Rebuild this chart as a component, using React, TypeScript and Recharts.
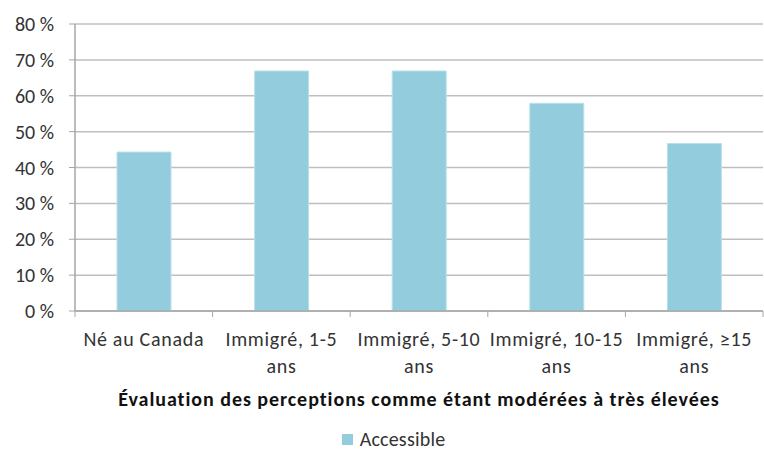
import { BarChart, Bar, XAxis, YAxis, CartesianGrid, Legend, Label } from "recharts";

const categories = [
  "Né au Canada",
  "Immigré, 1-5 ans",
  "Immigré, 5-10 ans",
  "Immigré, 10-15 ans",
  "Immigré, ≥15 ans",
];
const accessible = [44.3, 66.9, 66.9, 57.9, 46.7];
const yTicks = [0, 10, 20, 30, 40, 50, 60, 70, 80];

const data = categories.map((name, i) => ({ name, accessible: accessible[i] }));

const FONT = "Carlito, Lato, sans-serif";
const TEXT = "#333333";
const AXIS = "#a6a6a6";
const CHART_W = 764;
const CHART_H = 450;
const MARGIN = { top: 24, right: 1, left: 0, bottom: 0 };
const Y_WIDTH = 75;
const catWidth = (CHART_W - MARGIN.left - MARGIN.right - Y_WIDTH) / categories.length;

function CategoryTick(props: any) {
  const { x, y, payload, index } = props;
  const label = String(payload.value);
  const lines = label.endsWith(" ans") ? [label.slice(0, -4), "ans"] : [label];
  const axisY = y - 8;
  return (
    <g>
      <line x1={x - catWidth / 2} x2={x - catWidth / 2} y1={axisY} y2={axisY + 6} stroke={AXIS} />
      {index === categories.length - 1 && (
        <line x1={x + catWidth / 2} x2={x + catWidth / 2} y1={axisY} y2={axisY + 6} stroke={AXIS} />
      )}
      <text
        x={x}
        y={y}
        textAnchor="middle"
        fill={TEXT}
        fontSize={20}
        fontFamily={FONT}
        letterSpacing={0.7}
      >
        {lines.map((line, i) => (
          <tspan key={i} x={x} dy={27}>
            {line}
          </tspan>
        ))}
      </text>
    </g>
  );
}

export default function App() {
  return (
    <div
      style={{
        position: "absolute",
        left: 0,
        top: 0,
        width: CHART_W,
        height: CHART_H,
        background: "#fff",
        fontFamily: FONT,
      }}
    >
      <BarChart width={CHART_W} height={CHART_H} data={data} margin={MARGIN}>
        <CartesianGrid vertical={false} stroke="#bfbfbf" strokeWidth={1.5} />
        <XAxis
          dataKey="name"
          interval={0}
          height={107}
          tickLine={false}
          axisLine={{ stroke: AXIS, strokeWidth: 1.5 }}
          tick={<CategoryTick />}
          tickMargin={2}
        >
          <Label
            value="Évaluation des perceptions comme étant modérées à très élevées"
            position="insideBottom"
            offset={12}
            fill="#111111"
            fontSize={20}
            fontWeight="bold"
            fontFamily={FONT}
            letterSpacing={0.95}
          />
        </XAxis>
        <YAxis
          width={Y_WIDTH}
          domain={[0, 80]}
          ticks={yTicks}
          tickFormatter={(v) => `${v} %`}
          tick={{ fill: TEXT, fontSize: 20, fontFamily: FONT }}
          tickSize={6}
          tickMargin={15}
          tickLine={{ stroke: AXIS }}
          axisLine={{ stroke: AXIS, strokeWidth: 1.5 }}
        />
        <Legend
          verticalAlign="bottom"
          content={() => (
            <div
              style={{
                height: 32,
                boxSizing: "border-box",
                paddingTop: 9,
                paddingLeft: 24,
                lineHeight: "20px",
                textAlign: "center",
                fontSize: 20,
                color: TEXT,
                fontFamily: FONT,
                letterSpacing: 0.2,
              }}
            >
              <span
                style={{
                  display: "inline-block",
                  width: 11,
                  height: 11,
                  background: "#93cddd",
                  marginRight: 7,
                  verticalAlign: "middle",
                }}
              />
              <span style={{ verticalAlign: "middle" }}>Accessible</span>
            </div>
          )}
        />
        <Bar
          dataKey="accessible"
          name="Accessible"
          fill="#93cddd"
          stroke="#b9e0ea"
          strokeWidth={1}
          barSize={54}
          isAnimationActive={false}
        />
      </BarChart>
    </div>
  );
}
